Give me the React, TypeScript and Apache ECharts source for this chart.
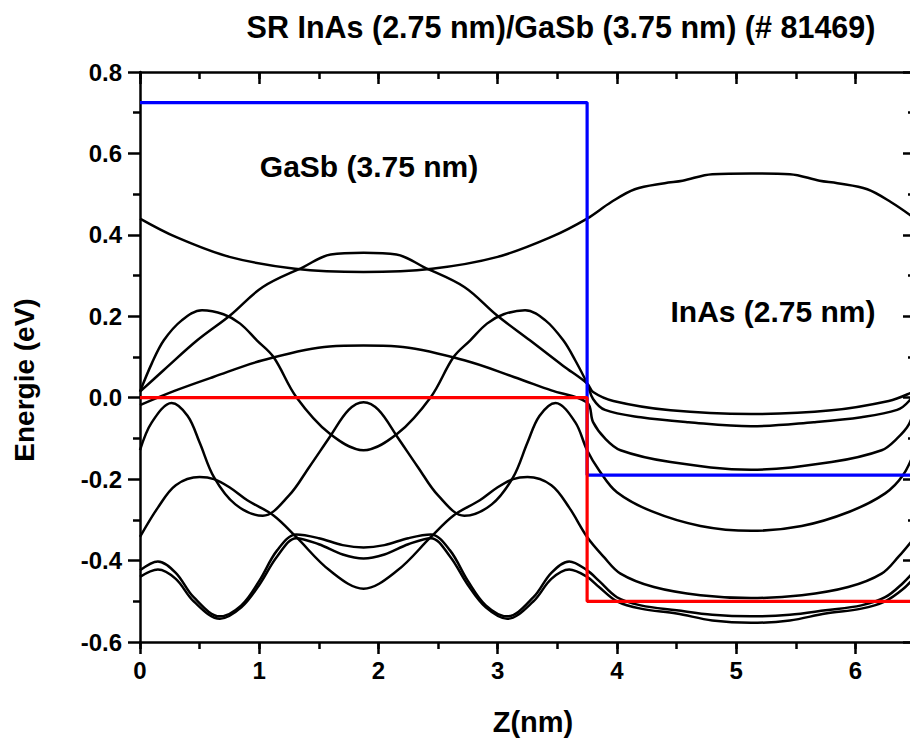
import React, { useEffect, useRef } from "react";
import * as echarts from "echarts";

// ---------- data ----------
const titleText = "SR InAs (2.75 nm)/GaSb (3.75 nm) (# 81469)";
const xAxisTitle = "Z(nm)";
const yAxisTitle = "Energie (eV)";
const gasbLabel = "GaSb (3.75 nm)";
const inasLabel = "InAs (2.75 nm)";

const X_MIN = 0;
const X_MAX = 6.5;
const Y_MIN = -0.6;
const Y_MAX = 0.8;

// band edges
const cbX = [0, 3.75, 3.75, 6.5];
const cbE = [0.725, 0.725, -0.19, -0.19];
const vbX = [0, 3.75, 3.75, 6.5];
const vbE = [0, 0, -0.5, -0.5];

// curve A (top)
const aX = [0, 0.3, 0.75, 1.3, 1.875, 2.45, 3.0, 3.45, 3.75, 3.95, 4.15, 4.4, 4.55, 4.8, 5.125, 5.45, 5.7, 5.85, 6.1, 6.3, 6.5];
const aE = [0.44, 0.395, 0.346, 0.317, 0.309, 0.317, 0.346, 0.395, 0.44, 0.48, 0.512, 0.527, 0.533, 0.549, 0.551, 0.549, 0.533, 0.527, 0.512, 0.48, 0.44];

// curve B (bell)
const bX = [0, 0.2, 0.48, 0.755, 1.03, 1.37, 1.6, 1.875, 2.15, 2.38, 2.72, 2.995, 3.27, 3.55, 3.75, 3.8, 3.97, 4.45, 5.125, 5.8, 6.28, 6.45, 6.5];
const bE = [0.015, 0.068, 0.141, 0.202, 0.272, 0.321, 0.352, 0.356, 0.352, 0.321, 0.272, 0.202, 0.141, 0.078, 0.035, 0.014, -0.008, -0.031, -0.04, -0.031, -0.008, 0.01, 0.02];

// curve C (two humps)
const cX = [0, 0.1, 0.2, 0.35, 0.52, 0.7, 0.84, 0.98, 1.12, 1.31, 1.59, 1.875, 2.16, 2.44, 2.63, 2.77, 2.91, 3.05, 3.23, 3.4, 3.55, 3.65, 3.75, 3.8, 3.9, 4.2, 4.6, 5.125, 5.65, 6.05, 6.35, 6.45, 6.5];
const cE = [0.015, 0.085, 0.141, 0.19, 0.215, 0.205, 0.182, 0.141, 0.1, 0.002, -0.088, -0.129, -0.088, 0.002, 0.1, 0.141, 0.182, 0.205, 0.215, 0.19, 0.141, 0.092, 0.035, -0.003, -0.03, -0.048, -0.06, -0.07, -0.06, -0.048, -0.03, -0.008, 0.02];

// curve D (broad hump)
const dX = [0, 0.3, 0.615, 1.03, 1.59, 1.875, 2.16, 2.72, 3.135, 3.45, 3.75, 3.8, 3.9, 4.03, 4.45, 5.125, 5.8, 6.22, 6.35, 6.45, 6.5];
const dE = [-0.018, 0.018, 0.051, 0.092, 0.126, 0.128, 0.126, 0.092, 0.051, 0.018, -0.012, -0.06, -0.1, -0.129, -0.158, -0.177, -0.158, -0.129, -0.1, -0.065, -0.018];

// curve E (three peaks)
const eX = [0, 0.1, 0.265, 0.4, 0.5, 0.62, 0.8, 1.03, 1.25, 1.42, 1.59, 1.75, 1.875, 2.0, 2.16, 2.33, 2.5, 2.72, 2.95, 3.13, 3.25, 3.35, 3.485, 3.65, 3.75, 3.85, 4.0, 4.3, 4.7, 5.125, 5.55, 5.95, 6.25, 6.4, 6.5];
const eE = [-0.129, -0.06, -0.013, -0.045, -0.11, -0.195, -0.262, -0.29, -0.24, -0.17, -0.097, -0.03, -0.011, -0.03, -0.097, -0.17, -0.24, -0.29, -0.262, -0.195, -0.11, -0.045, -0.013, -0.06, -0.129, -0.178, -0.232, -0.28, -0.315, -0.327, -0.315, -0.28, -0.235, -0.19, -0.129];

// curve F (two side peaks, deep centre)
const fX = [0, 0.15, 0.3, 0.5, 0.62, 0.75, 0.9, 1.12, 1.31, 1.59, 1.875, 2.16, 2.44, 2.63, 2.85, 3.0, 3.13, 3.25, 3.45, 3.6, 3.75, 3.89, 4.03, 4.31, 4.7, 5.125, 5.55, 5.94, 6.22, 6.36, 6.5];
const fE = [-0.342, -0.27, -0.215, -0.195, -0.2, -0.22, -0.252, -0.289, -0.342, -0.424, -0.469, -0.424, -0.342, -0.289, -0.252, -0.22, -0.2, -0.195, -0.215, -0.27, -0.342, -0.391, -0.432, -0.465, -0.485, -0.492, -0.485, -0.465, -0.432, -0.391, -0.342];

// curves G and H (bottom pair)
const ghX = [0, 0.15, 0.3, 0.45, 0.67, 0.85, 1.0, 1.15, 1.31, 1.5, 1.7, 1.875, 2.05, 2.25, 2.44, 2.6, 2.75, 2.9, 3.08, 3.3, 3.45, 3.6, 3.75, 3.85, 4.0, 4.2, 4.5, 4.8, 5.125, 5.45, 5.75, 6.05, 6.25, 6.4, 6.5];
const gE = [-0.424, -0.402, -0.43, -0.49, -0.537, -0.51, -0.45, -0.375, -0.336, -0.345, -0.362, -0.368, -0.362, -0.345, -0.336, -0.375, -0.45, -0.51, -0.537, -0.49, -0.43, -0.402, -0.424, -0.45, -0.49, -0.51, -0.522, -0.533, -0.537, -0.533, -0.522, -0.51, -0.49, -0.455, -0.424];
const hE = [-0.44, -0.422, -0.445, -0.5, -0.543, -0.515, -0.46, -0.39, -0.345, -0.36, -0.385, -0.395, -0.385, -0.36, -0.345, -0.39, -0.46, -0.515, -0.543, -0.5, -0.445, -0.422, -0.44, -0.465, -0.5, -0.518, -0.53, -0.547, -0.553, -0.547, -0.53, -0.518, -0.5, -0.47, -0.44];

const blackCurves: [number[], number[]][] = [
  [aX, aE],
  [bX, bE],
  [cX, cE],
  [dX, dE],
  [eX, eE],
  [fX, fE],
  [ghX, gE],
  [ghX, hE],
];

// ---------- helpers ----------
const FONT = "'Liberation Sans', Arial, Helvetica, sans-serif";
const pairs = (xs: number[], ys: number[]) => xs.map((x, i) => [x, ys[i]]);
const black = "#000";
const tickStyle = { color: black, width: 2.5 };

function makeXAxis(position: string, inside: boolean, interval: number, length: number, showLine: boolean, showLabel: boolean) {
  return {
    type: "value",
    position,
    min: X_MIN,
    max: X_MAX,
    interval,
    axisLine: { show: showLine, onZero: false, lineStyle: { color: black, width: 2.5 } },
    axisTick: { show: true, inside, length, lineStyle: tickStyle },
    axisLabel: {
      show: showLabel,
      margin: 16,
      color: black,
      fontSize: 24,
      fontWeight: "bold",
      fontFamily: FONT,
      formatter: (v: number) => (Math.abs(v - Math.round(v)) < 1e-6 ? String(Math.round(v)) : ""),
    },
    splitLine: { show: false },
  };
}

function makeYAxis(position: string, inside: boolean, showLabel: boolean) {
  return {
    type: "value",
    position,
    min: Y_MIN,
    max: Y_MAX,
    interval: 0.2,
    axisLine: { show: true, onZero: false, lineStyle: { color: black, width: 2.5 } },
    axisTick: { show: true, inside, length: 12, lineStyle: tickStyle },
    minorTick: { show: true, splitNumber: 2, length: 7, lineStyle: tickStyle },
    axisLabel: {
      show: showLabel,
      margin: 18,
      color: black,
      fontSize: 24,
      fontWeight: "bold",
      fontFamily: FONT,
      formatter: (v: number) => (Math.abs(v) < 1e-9 ? "0.0" : v.toFixed(1)),
    },
    splitLine: { show: false },
  };
}

function textEl(text: string, x: number, y: number, size: number, rotation = 0) {
  return {
    type: "text",
    x,
    y,
    rotation,
    silent: true,
    style: {
      text,
      fill: black,
      fontSize: size,
      fontWeight: "bold",
      fontFamily: FONT,
      textAlign: "center",
      textVerticalAlign: "middle",
      align: "center",
      verticalAlign: "middle",
    },
  };
}

export default function App() {
  const ref = useRef<HTMLDivElement>(null);

  useEffect(() => {
    if (!ref.current) return;
    const chart = echarts.init(ref.current, undefined, { renderer: "svg" });
    const option: any = {
      animation: false,
      backgroundColor: "#ffffff",
      grid: {
        left: 140,
        top: 72,
        right: -5,
        bottom: 102,
        containLabel: false,
        outerBoundsMode: "none",
      },
      xAxis: [
        makeXAxis("bottom", false, 1, 12, true, true),
        makeXAxis("bottom", false, 0.5, 7, false, false),
        makeXAxis("top", true, 1, 12, true, false),
        makeXAxis("top", true, 0.5, 7, false, false),
      ],
      yAxis: [makeYAxis("left", false, true), makeYAxis("right", true, false)],
      series: [
        ...blackCurves.map(([xs, ys]) => ({
          type: "line",
          xAxisIndex: 0,
          yAxisIndex: 0,
          data: pairs(xs, ys),
          smooth: 0.35,
          symbol: "none",
          showSymbol: false,
          silent: true,
          lineStyle: { color: black, width: 2.5 },
          z: 2,
        })),
        {
          type: "line",
          xAxisIndex: 0,
          yAxisIndex: 0,
          data: pairs(cbX, cbE),
          symbol: "none",
          silent: true,
          lineStyle: { color: "#0000ff", width: 3.2 },
          z: 3,
        },
        {
          type: "line",
          xAxisIndex: 0,
          yAxisIndex: 0,
          data: pairs(vbX, vbE),
          symbol: "none",
          silent: true,
          lineStyle: { color: "#ff0000", width: 3.2 },
          z: 3,
        },
      ],
      graphic: [
        textEl(titleText, 561, 27, 30.5),
        textEl(gasbLabel, 369, 166, 30),
        textEl(inasLabel, 773, 311, 30),
        textEl(xAxisTitle, 533, 722, 29),
        textEl(yAxisTitle, 24, 380, 28, Math.PI / 2),
      ],
    };
    chart.setOption(option);
    return () => chart.dispose();
  }, []);

  return (
    <div
      ref={ref}
      style={{ position: "absolute", left: 0, top: 0, width: 910, height: 744, background: "#fff" }}
    />
  );
}
